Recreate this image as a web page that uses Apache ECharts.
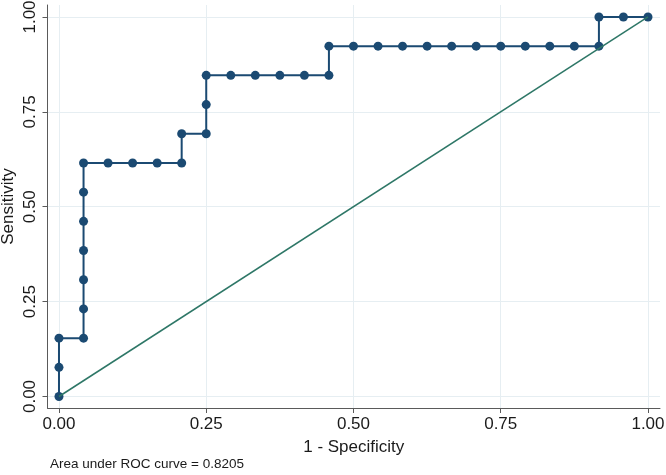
<!DOCTYPE html>
<html>
<head>
<meta charset="utf-8">
<script src="https://cdn.jsdelivr.net/npm/echarts@6/dist/echarts.min.js"></script>
<style>
html,body{margin:0;padding:0;background:#fff;}
#chart{width:666px;height:475px;}
</style>
</head>
<body>
<div id="chart"></div>
<script>
// 1 - Specificity (false positive rate) for each ROC point
const fpr = [0, 0, 0, 0.0417, 0.0417, 0.0417, 0.0417, 0.0417, 0.0417, 0.0417,
  0.0833, 0.125, 0.1667, 0.2083, 0.2083, 0.25, 0.25, 0.25, 0.2917, 0.3333,
  0.375, 0.4167, 0.4583, 0.4583, 0.5, 0.5417, 0.5833, 0.625, 0.6667, 0.7083,
  0.75, 0.7917, 0.8333, 0.875, 0.9167, 0.9167, 0.9583, 1];
// Sensitivity for each ROC point
const sensitivity = [0, 0.0769, 0.1538, 0.1538, 0.2308, 0.3077, 0.3846, 0.4615, 0.5385, 0.6154,
  0.6154, 0.6154, 0.6154, 0.6154, 0.6923, 0.6923, 0.7692, 0.8462, 0.8462, 0.8462,
  0.8462, 0.8462, 0.8462, 0.9231, 0.9231, 0.9231, 0.9231, 0.9231, 0.9231, 0.9231,
  0.9231, 0.9231, 0.9231, 0.9231, 0.9231, 1, 1, 1];
// Reference (chance) line
const refX = [0, 1];
const refY = [0, 1];
// Tick labels
const tickValues = [0, 0.25, 0.5, 0.75, 1];
const xTitle = '1 - Specificity';
const yTitle = 'Sensitivity';
const noteText = 'Area under ROC curve = 0.8205';

const rocData = fpr.map((x, i) => [x, sensitivity[i]]);
const refData = refX.map((x, i) => [x, refY[i]]);

const FONT = 'Liberation Sans, Arial, Helvetica, sans-serif';
const gridColor = '#e6eef2';
const axisColor = '#5a5a5a';

const gridLines = tickValues.map(v => ({xAxis: v})).concat(tickValues.map(v => ({yAxis: v})));

const chart = echarts.init(document.getElementById('chart'), null, {renderer: 'canvas'});
chart.setOption({
  animation: false,
  backgroundColor: '#ffffff',
  title: {
    text: noteText,
    left: 50,
    top: 457,
    textStyle: {fontFamily: FONT, fontSize: 13.5, fontWeight: 'normal', color: '#1a1a1a'},
    padding: 0
  },
  grid: {left: 47.5, top: 5, right: 6, bottom: 67, containLabel: false, outerBoundsMode: 'none'},
  xAxis: {
    type: 'value',
    min: -0.0195,
    max: 1.0204,
    name: xTitle,
    nameLocation: 'middle',
    nameGap: 31,
    nameMoveOverlap: false,
    nameTextStyle: {fontFamily: FONT, fontSize: 17, color: '#1a1a1a'},
    axisLine: {show: true, onZero: false, lineStyle: {color: axisColor, width: 1}},
    axisTick: {show: true, length: 5, customValues: tickValues, lineStyle: {color: axisColor}},
    axisLabel: {customValues: tickValues, margin: 8, fontFamily: FONT, fontSize: 17, color: '#1a1a1a',
      formatter: v => v.toFixed(2)},
    splitLine: {show: false}
  },
  yAxis: {
    type: 'value',
    min: -0.0303,
    max: 1.0316,
    name: yTitle,
    nameLocation: 'middle',
    nameGap: 31,
    nameMoveOverlap: false,
    nameTextStyle: {fontFamily: FONT, fontSize: 17, color: '#1a1a1a'},
    axisLine: {show: true, onZero: false, lineStyle: {color: axisColor, width: 1}},
    axisTick: {show: true, length: 5, customValues: tickValues, lineStyle: {color: axisColor}},
    axisLabel: {customValues: tickValues, margin: 9, rotate: 90, fontFamily: FONT, fontSize: 17, color: '#1a1a1a',
      formatter: v => v.toFixed(2)},
    splitLine: {show: false}
  },
  series: [
    {
      type: 'line',
      data: [],
      z: 0,
      silent: true,
      markLine: {
        silent: true,
        z: 0,
        zlevel: 0,
        symbol: ['none', 'none'],
        label: {show: false},
        lineStyle: {color: gridColor, width: 1, type: 'solid'},
        emphasis: {disabled: true},
        data: gridLines
      }
    },
    {
      type: 'line',
      data: rocData,
      symbol: 'circle',
      symbolSize: 9,
      showSymbol: true,
      lineStyle: {color: '#1b4a72', width: 2},
      itemStyle: {color: '#1b4a72', borderWidth: 0},
      z: 6
    },
    {
      type: 'line',
      data: refData,
      symbol: 'none',
      lineStyle: {color: '#2e7767', width: 1.5},
      z: 7
    }
  ]
});
</script>
</body>
</html>
